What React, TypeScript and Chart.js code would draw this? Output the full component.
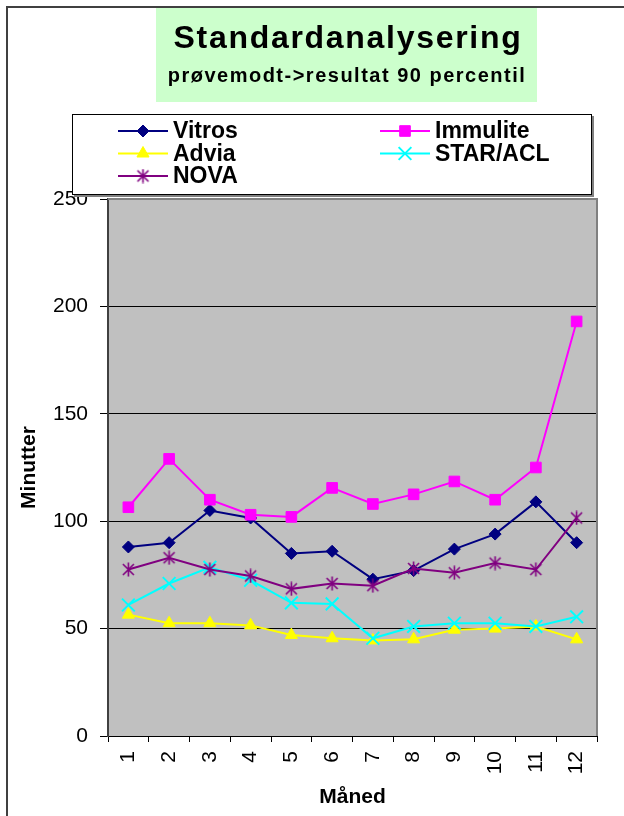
import React, { useEffect, useRef } from "react";
import { Chart, registerables } from "chart.js";

Chart.register(...registerables);

const months = ["1", "2", "3", "4", "5", "6", "7", "8", "9", "10", "11", "12"];
const vitros = [88, 90, 105, 101.5, 85, 86, 73, 77, 87, 94, 109, 90];
const immulite = [106.5, 129, 110, 103, 102, 115.5, 108, 112.5, 118.5, 110, 125, 193];
const advia = [56.5, 52.5, 52.5, 51.5, 47, 45.5, 44.5, 45, 49.5, 50, 51, 45];
const starAcl = [61, 71, 78.5, 72.5, 62, 61.5, 45.5, 51, 52.5, 52.5, 51, 55.5];
const nova = [77.5, 83, 77.5, 74.5, 68.5, 71, 70, 78, 76, 80.5, 77.5, 101.5];
const yTicks = [0, 50, 100, 150, 200, 250];

const titleText = "Standardanalysering";
const subtitleText = "prøvemodt->resultat 90 percentil";
const yTitle = "Minutter";
const xTitle = "Måned";

const FONT = '"Liberation Sans", Arial, Helvetica, sans-serif';

function makeAsterisk(color: string): HTMLCanvasElement {
  const c = document.createElement("canvas");
  c.width = 15;
  c.height = 15;
  const g = c.getContext("2d")!;
  g.strokeStyle = color;
  g.lineWidth = 1.6;
  g.beginPath();
  g.moveTo(7.5, 0.5);
  g.lineTo(7.5, 14.5);
  g.moveTo(2, 2);
  g.lineTo(13, 13);
  g.moveTo(13, 2);
  g.lineTo(2, 13);
  g.stroke();
  return c;
}

function drawMarker(ctx: CanvasRenderingContext2D, ds: any, x: number, y: number) {
  const style = ds.pointStyle;
  const r = ds.pointRadius;
  ctx.save();
  ctx.fillStyle = ds.pointBackgroundColor;
  ctx.strokeStyle = ds.pointBorderColor;
  ctx.lineWidth = ds.pointBorderWidth;
  ctx.beginPath();
  if (style instanceof HTMLCanvasElement) {
    ctx.drawImage(style, x - style.width / 2, y - style.height / 2);
    ctx.restore();
    return;
  }
  if (style === "rectRot") {
    ctx.moveTo(x - r, y);
    ctx.lineTo(x, y - r);
    ctx.lineTo(x + r, y);
    ctx.lineTo(x, y + r);
    ctx.closePath();
    ctx.fill();
    ctx.stroke();
  } else if (style === "rect") {
    const s = r * Math.SQRT1_2;
    ctx.rect(x - s, y - s, 2 * s, 2 * s);
    ctx.fill();
    ctx.stroke();
  } else if (style === "triangle") {
    const a = (2 * Math.PI) / 3;
    ctx.moveTo(x, y - r);
    ctx.lineTo(x + Math.sin(a) * r, y - Math.cos(a) * r);
    ctx.lineTo(x - Math.sin(a) * r, y - Math.cos(a) * r);
    ctx.closePath();
    ctx.fill();
    ctx.stroke();
  } else if (style === "crossRot") {
    const s = r * Math.SQRT1_2;
    ctx.moveTo(x - s, y - s);
    ctx.lineTo(x + s, y + s);
    ctx.moveTo(x + s, y - s);
    ctx.lineTo(x - s, y + s);
    ctx.stroke();
  }
  ctx.restore();
}

const decorPlugin = {
  id: "decor",
  beforeDraw(chart: any) {
    const { ctx, chartArea: a, width, height } = chart;
    ctx.save();
    ctx.fillStyle = "#ffffff";
    ctx.fillRect(0, 0, width, height);
    // outer frame
    ctx.fillStyle = "#404040";
    ctx.fillRect(6, 6, width - 6, 2);
    ctx.fillRect(6, 6, 2, height - 6);
    // title box
    ctx.fillStyle = "#CCFFCC";
    ctx.fillRect(156, 8, 381, 94);
    ctx.fillStyle = "#000";
    ctx.textAlign = "center";
    ctx.textBaseline = "alphabetic";
    ctx.font = `bold 32px ${FONT}`;
    (ctx as any).letterSpacing = "1.7px";
    ctx.fillText(titleText, 348, 48);
    ctx.font = `bold 20px ${FONT}`;
    (ctx as any).letterSpacing = "1.5px";
    ctx.fillText(subtitleText, 347, 82);
    (ctx as any).letterSpacing = "0px";
    // plot background
    ctx.fillStyle = "#C0C0C0";
    ctx.fillRect(a.left, a.top, a.right - a.left, a.bottom - a.top);
    ctx.restore();
  },
  beforeDatasetsDraw(chart: any) {
    const { ctx, chartArea: a } = chart;
    ctx.save();
    ctx.fillStyle = "#808080";
    ctx.fillRect(a.left, a.top - 1, a.right - a.left + 1, 2);
    ctx.fillRect(a.right - 1, a.top - 1, 2, a.bottom - a.top + 1);
    ctx.restore();
  },
  afterDraw(chart: any) {
    const { ctx } = chart;
    const L = 72, T = 114, R = 592, B = 195;
    ctx.save();
    ctx.fillStyle = "#808080";
    ctx.fillRect(L + 2, T + 2, R - L, B - T);
    ctx.fillStyle = "#ffffff";
    ctx.fillRect(L, T, R - L, B - T);
    ctx.strokeStyle = "#000";
    ctx.lineWidth = 1;
    ctx.strokeRect(L + 0.5, T + 0.5, R - L - 1, B - T - 1);
    const colX = [118, 380];
    const rowY = [131, 153.5, 176];
    ctx.font = `bold 23px ${FONT}`;
    ctx.textAlign = "left";
    ctx.textBaseline = "middle";
    chart.data.datasets.forEach((ds: any, i: number) => {
      const x0 = colX[i % 2];
      const y = rowY[Math.floor(i / 2)];
      ctx.strokeStyle = ds.borderColor;
      ctx.lineWidth = ds.borderWidth;
      ctx.beginPath();
      ctx.moveTo(x0, y);
      ctx.lineTo(x0 + 50, y);
      ctx.stroke();
      drawMarker(ctx, ds, x0 + 25, y);
      ctx.fillStyle = "#000";
      ctx.fillText(ds.label, x0 + 55, y + 1);
    });
    ctx.restore();
  },
};

export default function App() {
  const ref = useRef<HTMLCanvasElement>(null);
  useEffect(() => {
    if (!ref.current) return;
    Chart.defaults.font.family = FONT;
    const chart = new Chart(ref.current, {
      type: "line",
      data: {
        labels: months,
        datasets: [
          {
            label: "Vitros",
            data: vitros,
            borderColor: "#000080",
            backgroundColor: "#000080",
            borderWidth: 2,
            pointStyle: "rectRot",
            pointRadius: 6,
            pointBackgroundColor: "#000080",
            pointBorderColor: "#000080",
            pointBorderWidth: 1,
            order: 4,
          },
          {
            label: "Immulite",
            data: immulite,
            borderColor: "#FF00FF",
            backgroundColor: "#FF00FF",
            borderWidth: 2,
            pointStyle: "rect",
            pointRadius: 7.5,
            pointBackgroundColor: "#FF00FF",
            pointBorderColor: "#FF00FF",
            pointBorderWidth: 1,
            order: 3,
          },
          {
            label: "Advia",
            data: advia,
            borderColor: "#FFFF00",
            backgroundColor: "#FFFF00",
            borderWidth: 2,
            pointStyle: "triangle",
            pointRadius: 7,
            pointBackgroundColor: "#FFFF00",
            pointBorderColor: "#FFFF00",
            pointBorderWidth: 1,
            order: 2,
          },
          {
            label: "STAR/ACL",
            data: starAcl,
            borderColor: "#00FFFF",
            backgroundColor: "#00FFFF",
            borderWidth: 2,
            pointStyle: "crossRot",
            pointRadius: 9,
            pointBackgroundColor: "#00FFFF",
            pointBorderColor: "#00FFFF",
            pointBorderWidth: 2,
            order: 1,
          },
          {
            label: "NOVA",
            data: nova,
            borderColor: "#800080",
            backgroundColor: "#800080",
            borderWidth: 2,
            pointStyle: makeAsterisk("#800080"),
            pointRadius: 7,
            pointBackgroundColor: "#800080",
            pointBorderColor: "#800080",
            pointBorderWidth: 1.5,
            order: 0,
          },
        ],
      },
      options: {
        responsive: false,
        animation: false,
        devicePixelRatio: 1,
        layout: { padding: { top: 199, right: 27, bottom: 0, left: 0 } },
        plugins: {
          legend: { display: false },
          title: { display: false },
          tooltip: { enabled: false },
        },
        elements: { line: { tension: 0 } },
        scales: {
          x: {
            type: "category",
            offset: true,
            afterFit: (s: any) => {
              s.height = 80;
            },
            grid: {
              display: true,
              offset: true,
              drawOnChartArea: false,
              drawTicks: true,
              tickLength: 6,
              tickColor: "#000",
              tickWidth: 1,
            },
            border: { display: true, color: "#000", width: 1 },
            ticks: {
              color: "#000",
              font: { size: 21, family: FONT },
              minRotation: 90,
              maxRotation: 90,
              autoSkip: false,
              padding: 9,
            },
            title: {
              display: true,
              text: xTitle,
              color: "#000",
              font: { size: 21, weight: "bold", family: FONT },
              padding: { top: 0, bottom: 6 },
            },
          },
          y: {
            type: "linear",
            min: 0,
            max: 250,
            afterFit: (s: any) => {
              s.width = 108;
            },
            afterBuildTicks: (s: any) => {
              s.ticks = yTicks.map((v) => ({ value: v }));
            },
            grid: {
              color: (c: any) =>
                c.tick && (c.tick.value === 0 || c.tick.value === 250) ? "rgba(0,0,0,0)" : "#000",
              lineWidth: 1,
              drawTicks: true,
              tickLength: 8,
              tickColor: "#000",
              tickWidth: 1,
            },
            border: { display: true, color: "#404040", width: 2 },
            ticks: {
              color: "#000",
              font: { size: 21, family: FONT },
              padding: 12,
              stepSize: 50,
            },
            title: {
              display: true,
              text: yTitle,
              color: "#000",
              font: { size: 21, weight: "bold", family: FONT },
              padding: { top: 17, bottom: 0 },
            },
          },
        },
      },
      plugins: [decorPlugin],
    } as any);
    return () => chart.destroy();
  }, []);
  return (
    <div style={{ position: "absolute", left: 0, top: 0, width: 624, height: 816 }}>
      <canvas ref={ref} width={624} height={816} style={{ display: "block" }} />
    </div>
  );
}
